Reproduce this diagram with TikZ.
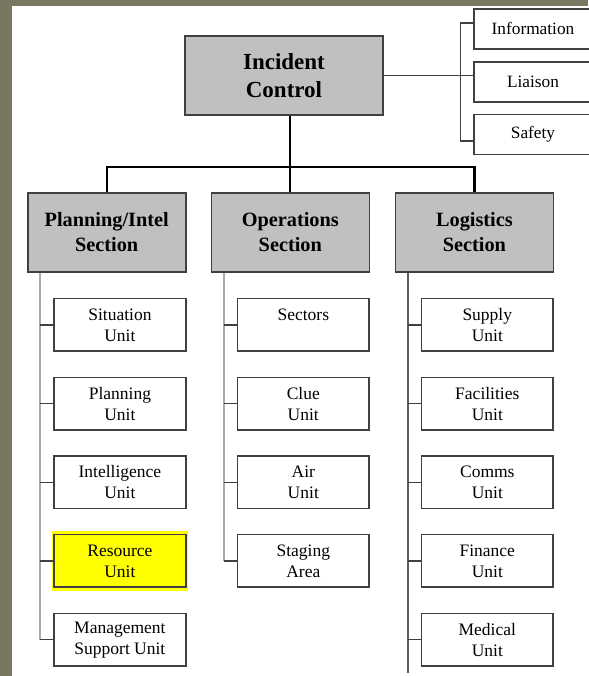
\documentclass[tikz,border=0pt]{standalone}
\usepackage{fontspec}
\setmainfont{Liberation Serif}
\definecolor{slideolive}{RGB}{121, 119, 97}
\definecolor{boxgray}{RGB}{192, 192, 192}
\definecolor{edgegray}{RGB}{64, 64, 64}
\definecolor{trunkgray}{RGB}{170, 170, 170}
\definecolor{hiyellow}{RGB}{255, 255, 0}
\usetikzlibrary{positioning, calc}

\begin{document}
\begin{tikzpicture}[x=1pt, y=1pt,
    command/.style={draw=edgegray, line width=1.6pt, fill=boxgray, inner sep=0pt,
      minimum width=198pt, minimum height=79pt, align=center,
      font=\fontsize{23}{28}\selectfont\bfseries},
    section/.style={draw=edgegray, line width=1.6pt, fill=boxgray, inner sep=0pt,
      minimum width=158pt, minimum height=79pt, align=center,
      font=\fontsize{20.3}{25}\selectfont\bfseries},
    staff/.style={draw=edgegray, line width=1.5pt, fill=white, inner sep=0pt,
      minimum width=118pt, minimum height=40pt, align=center,
      font=\fontsize{17.3}{21}\selectfont},
    unitbox/.style={draw=edgegray, line width=1.5pt, fill=white, inner sep=0pt,
      minimum width=131.7pt, minimum height=52.5pt, align=center,
      font=\fontsize{17.5}{21}\selectfont},
    mainline/.style={black, line width=2.3pt},
    bracket/.style={edgegray, line width=1.5pt},
    trunk/.style={trunkgray, line width=2pt},
    stub/.style={edgegray, line width=1.5pt}]

  % slide background
  \useasboundingbox (0,0) rectangle (588,676);
  \fill[slideolive] (0,0) rectangle (588,676);
  \fill[white] (12,0) rectangle (588,670);

  % top of the chart
  \node[command] (ic) at (284,600.5) {Incident\\Control};
  \node[staff] (info) at (533,647) {Information};
  \node[staff] (liaison) at (533,594) {Liaison};
  \node[staff] (safety) at (533,541.5) {Safety};

  % sections
  \node[section] (plan) at (106.7,443.5) {Planning/Intel\\Section};
  \node[section] (ops) at (290.3,443.5) {Operations\\Section};
  \node[section] (log) at (474.4,443.5) {Logistics\\Section};

  % units
  \node[unitbox] (situ) at (119.9,351) {Situation\\Unit};
  \node[unitbox] (planu) at (119.9,272.3) {Planning\\Unit};
  \node[unitbox] (intel) at (119.9,193.7) {Intelligence\\Unit};
  \fill[hiyellow] ($(119.9,115)+(-68,-30)$) rectangle ($(119.9,115)+(68,30)$);
  \node[unitbox, fill=hiyellow] (res) at (119.9,115) {Resource\\Unit};
  \node[unitbox] (msu) at (119.9,36.3) {Management\\Support Unit};

  \node[unitbox] (sect) at (303.3,351) {Sectors\\\phantom{Unit}};
  \node[unitbox] (clue) at (303.3,272.3) {Clue\\Unit};
  \node[unitbox] (air) at (303.3,193.7) {Air\\Unit};
  \node[unitbox] (stage) at (303.3,115) {Staging\\Area};

  \node[unitbox] (supply) at (487.3,351) {Supply\\Unit};
  \node[unitbox] (facil) at (487.3,272.3) {Facilities\\Unit};
  \node[unitbox] (comms) at (487.3,193.7) {Comms\\Unit};
  \node[unitbox] (fin) at (487.3,115) {Finance\\Unit};
  \node[unitbox] (med) at (487.3,36.3) {Medical\\Unit};

  % command staff bracket
  \coordinate (brtop) at ($(info.west)+(-13,6)$);
  \coordinate (brbot) at ($(safety.west)+(-13,-6.5)$);
  \draw[bracket] (ic.east |- ic.center) -- (liaison.west |- ic.center);
  \draw[bracket] (info.west |- brtop) -- (brtop) -- (brbot) -- (safety.west |- brbot);

  % command to sections
  \coordinate (bus) at (0,509);
  \draw[mainline] (ops.north |- ic.south) -- (ops.north);
  \draw[mainline] (plan.north) -- (plan.north |- bus) -- (log.north |- bus) -- (log.north);

  % trunks and stubs
  \coordinate (plantrunk) at ($(plan.south west)+(13.3,0)$);
  \coordinate (opstrunk) at ($(ops.south west)+(13.3,0)$);
  \coordinate (logtrunk) at ($(log.south west)+(13.3,0)$);
  \coordinate (logend) at ($(logtrunk)+(0,-400)$);
  \draw[trunk] (plantrunk) -- (plantrunk |- msu.west);
  \draw[trunk] (opstrunk) -- (opstrunk |- stage.west);
  \draw[trunk, edgegray!85] (logtrunk) -- (logend);
  \foreach \u in {situ, planu, intel, res, msu}
    \draw[stub] (plantrunk |- \u.west) -- (\u.west);
  \foreach \u in {sect, clue, air, stage}
    \draw[stub] (opstrunk |- \u.west) -- (\u.west);
  \foreach \u in {supply, facil, comms, fin, med}
    \draw[stub] (logtrunk |- \u.west) -- (\u.west);
\end{tikzpicture}
\end{document}
